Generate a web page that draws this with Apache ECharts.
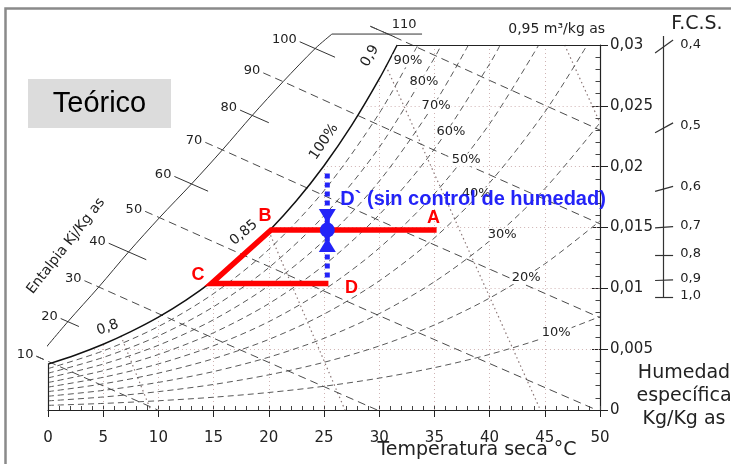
<!DOCTYPE html>
<html><head><meta charset="utf-8">
<script src="https://cdn.jsdelivr.net/npm/echarts@6/dist/echarts.min.js"></script>
<style>html,body{margin:0;padding:0;background:#fff}#c{width:731px;height:464px}</style>
</head><body><div id="c"></div>
<script>
// ================= data =================
const tempGrid = [0, 5, 10, 15, 20, 25, 30, 35, 40, 45, 50];
// saturation curve (100 %)
const satT = [0, 2.5, 5, 7.5, 10, 12.5, 15, 17.5, 20, 22.5, 25, 27.5, 30, 31.63];
const satW = [0.00377, 0.00452, 0.00540, 0.00644, 0.00763, 0.00903, 0.01065, 0.01253, 0.01470, 0.01720, 0.02008, 0.02339, 0.02721, 0.03];
// relative humidity curves, humidity at tempGrid
const rhLevels = [10, 20, 30, 40, 50, 60, 70, 80, 90];
const rh10 = [0.00038, 0.00054, 0.00076, 0.00105, 0.00144, 0.00195, 0.00262, 0.00348, 0.00457, 0.00595, 0.00768];
const rh20 = [0.00075, 0.00107, 0.00151, 0.00210, 0.00289, 0.00392, 0.00526, 0.00699, 0.00920, 0.01201, 0.01554];
const rh30 = [0.00113, 0.00161, 0.00227, 0.00316, 0.00434, 0.00589, 0.00792, 0.01054, 0.01390, 0.01819, 0.02361];
const rh40 = [0.00151, 0.00215, 0.00303, 0.00422, 0.00580, 0.00788, 0.01061, 0.01414, 0.01868, 0.02449];
const rh50 = [0.00188, 0.00269, 0.00379, 0.00528, 0.00726, 0.00988, 0.01331, 0.01777, 0.02352];
const rh60 = [0.00226, 0.00323, 0.00456, 0.00635, 0.00874, 0.01190, 0.01605, 0.02145, 0.02844];
const rh70 = [0.00264, 0.00377, 0.00532, 0.00742, 0.01022, 0.01393, 0.01880, 0.02517];
const rh80 = [0.00302, 0.00432, 0.00609, 0.00849, 0.01170, 0.01597, 0.02158, 0.02893];
const rh90 = [0.00340, 0.00486, 0.00686, 0.00957, 0.01320, 0.01802, 0.02438];
const rhTopT = [null, null, null, 48.84, 44.45, 40.96, 38.08, 35.62, 33.5]; // where curve meets 0,03
const rhLabelT = [46.03, 43.31, 41.13, 38.78, 37.87, 36.5, 35.15, 34.06, 32.6];
const rhLabelW = [0.00636, 0.01088, 0.01441, 0.01777, 0.02056, 0.02286, 0.0250, 0.02696, 0.02869];
// enthalpy scale (kJ/kg)
const hValues = [10, 20, 30, 40, 50, 60, 70, 80, 90, 100, 110];
const hScaleT = [-0.9, 1.8, 4.6, 7.3, 10.1, 13.0, 15.8, 18.5, 21.3, 24.2, 30.8];
const hScaleW = [0.00436, 0.00726, 0.01011, 0.01299, 0.01581, 0.01858, 0.02138, 0.02421, 0.02699, 0.02971, 0.0309];
const hScaleCorner = [25.72, 0.0309];
const hScaleEndT = 33.88;
const hDashed = [10, 30, 50, 70, 90, 110];
const hMidT = [5, 15, 29.4, 32, 36, 40];
const hMidW = [0.00198, 0.00590, 0.00799, 0.01477, 0.02094, 0.02709];
const hEndT = [9.94, 29.82, 49.7, 50, 50, 50];
const hEndW = [0, 0, 0, 0.00759, 0.01530, 0.02301];
// specific volume lines (m3/kg)
const volLabels = ['0,8', '0,85', '0,9'];
const volStartT = [6.6, 20.0, 30.6, 46.8];
const volStartW = [0.0061, 0.0147, 0.0283, 0.03];
const volEndT = [9.3, 26.9, 44.6, 50];
const volEndW = [0, 0, 0, 0.0236];
const volLabelT = [5.41, 17.74, 29.16];
const volLabelW = [0.00677, 0.01457, 0.0291];
const vol95Label = '0,95 m³/kg as';
const satLabel = ['100%', 25.0, 0.02204];
// dotted grid
const gridVT = [5, 10, 15, 20, 25, 30, 35, 40, 45];
const gridVTop = [0.0054, 0.00763, 0.01065, 0.0147, 0.02008, 0.02721, 0.03, 0.03, 0.03];
const gridHW = [0.005, 0.01, 0.015, 0.02, 0.025];
const gridHStart = [3.8, 14.0, 20.3, 24.9, 28.5];
// process A-B-C-D and D'
const processNames = ['A', 'B', 'C', 'D'];
const processT = [35.2, 20.2, 14.8, 25.4];
const processW = [0.0148, 0.0148, 0.0104, 0.0104];
const dPrimeT = 25.3, dPrimeW = 0.0148;
const dPathW = [0.0109, 0.0195];
const dPrimeText = 'D` (sin control de humedad)';
// F.C.S. scale
const fcsLabels = ['0,4', '0,5', '0,6', '0,7', '0,8', '0,9', '1,0'];
const fcsW = [0.02988, 0.02319, 0.01818, 0.01502, 0.01268, 0.01067, 0.00923];
const fcsTopW = 0.03074;
const fcsT = 55.73;

// ================= styles =================
const FONT = 'DejaVu Sans';
const INK = '#222';
const H_SLOPE = -0.000398;            // direction of constant-enthalpy ticks
const hTickLeft = [0.15, 0.65, 1.3, 1.8, 1.3, 1.55, 1.55, 1.1, 1.8, 1.4, 1.6];
const hTickRight = [0.5, 1.0, 1.5, 1.6, 1.5, 1.5, 1.5, 1.5, 1.6, 1.8, 0.6];
const fcsTilt = [0.00107, 0.00082, 0.00041, 0.0001, 0, 0.00005, 0];
const BLUE = '#2323f8', RED = '#ff0000';

const rhAll = [rh10, rh20, rh30, rh40, rh50, rh60, rh70, rh80, rh90];
const series = [];

function labelSeries(points, texts, label, z) {
  return {
    type: 'scatter', silent: true, clip: false, z: z || 6, symbolSize: 1,
    itemStyle: { color: 'transparent', opacity: 1 },
    label: Object.assign({ show: true, position: 'inside', fontFamily: FONT, fontSize: 13, color: INK }, label),
    data: points.map((p, i) => ({ value: p, label: { formatter: texts[i] } }))
  };
}

// dotted grid
series.push({
  type: 'lines', coordinateSystem: 'cartesian2d', silent: true, z: 1, clip: false,
  lineStyle: { color: '#cfb3b3', width: 1, type: [1, 3], opacity: 1 },
  data: gridVT.map((t, i) => ({ coords: [[t, 0], [t, gridVTop[i]]] }))
    .concat(gridHW.map((w, i) => ({ coords: [[gridHStart[i], w], [50, w]] })))
});

// RH curves
rhAll.forEach((arr, k) => {
  const pts = arr.map((w, i) => [tempGrid[i], w]);
  if (rhTopT[k] != null) pts.push([rhTopT[k], 0.03]);
  series.push({
    type: 'line', data: pts, smooth: 0.3, symbol: 'none', silent: true, z: 2,
    lineStyle: { color: '#5a5a5a', width: 1, type: [6, 4] }
  });
});

// volume lines
series.push({
  type: 'lines', coordinateSystem: 'cartesian2d', silent: true, z: 2, clip: false,
  lineStyle: { color: '#8c7777', width: 1.2, type: [1.5, 3], opacity: 1 },
  data: volStartT.map((t, i) => ({ coords: [[t, volStartW[i]], [volEndT[i], volEndW[i]]] }))
});

// saturation curve
series.push({
  type: 'line', data: satT.map((t, i) => [t, satW[i]]), smooth: 0.3,
  symbol: 'none', silent: true, z: 4, clip: false, lineStyle: { color: '#111', width: 1.5 }
});
// borders of the chart body
series.push({
  type: 'lines', coordinateSystem: 'cartesian2d', silent: true, z: 4, clip: false,
  lineStyle: { color: '#222', width: 1.2, opacity: 1 },
  data: [{ coords: [[0, 0], [0, satW[0]]] }, { coords: [[satT[satT.length - 1], 0.03], [50, 0.03]] }]
});

// enthalpy scale line
series.push({
  type: 'line', data: hScaleT.slice(0, 10).map((t, i) => [t, hScaleW[i]]).concat([hScaleCorner]),
  smooth: 0.3, symbol: 'none', silent: true, z: 3, clip: false, lineStyle: { color: '#333', width: 1 }
});
series.push({
  type: 'line', data: [hScaleCorner, [hScaleEndT, hScaleCorner[1]]],
  symbol: 'none', silent: true, z: 3, clip: false, lineStyle: { color: '#333', width: 1 }
});
// enthalpy ticks
const tickLeftPts = hScaleT.map((t, i) => [t - hTickLeft[i], hScaleW[i] - hTickLeft[i] * H_SLOPE]);
series.push({
  type: 'lines', coordinateSystem: 'cartesian2d', silent: true, z: 3, clip: false,
  lineStyle: { color: '#333', width: 1, opacity: 1 },
  data: hScaleT.map((t, i) => ({
    coords: [tickLeftPts[i], [t + hTickRight[i], hScaleW[i] + hTickRight[i] * H_SLOPE]]
  })).filter((d, i) => hDashed.indexOf(hValues[i]) < 0 || hValues[i] === 110 || hValues[i] === 10)
});
// dashed enthalpy lines
series.push({
  type: 'lines', coordinateSystem: 'cartesian2d', polyline: true, silent: true, z: 3, clip: false,
  lineStyle: { color: '#4a4a4a', width: 1, type: [8, 5], opacity: 1 },
  data: hDashed.map((h, k) => {
    const i = hValues.indexOf(h);
    return { coords: [tickLeftPts[i], [hScaleT[i], hScaleW[i]], [hMidT[k], hMidW[k]], [hEndT[k], hEndW[k]]] };
  })
});
// enthalpy labels
series.push(labelSeries(
  hValues.map((h, i) => i === 10 ? [hScaleT[i], hScaleW[i]] : tickLeftPts[i]),
  hValues.map(String),
  { fontSize: 13 }, 6));
series[series.length - 1].data.forEach((d, i) => {
  d.label.align = i === 10 ? 'center' : 'right';
  d.label.offset = i === 10 ? [16, -9] : [-3, -2];
});

// F.C.S. scale
series.push({
  type: 'lines', coordinateSystem: 'cartesian2d', silent: true, z: 3, clip: false,
  lineStyle: { color: '#333', width: 1.2, opacity: 1 },
  data: [{ coords: [[fcsT, fcsTopW], [fcsT, fcsW[fcsW.length - 1]]] }].concat(
    fcsW.map((w, i) => ({ coords: [[fcsT - 0.74, w - fcsTilt[i] / 2], [fcsT + 0.89, w + fcsTilt[i] / 2]] })))
});
series.push(labelSeries(fcsW.map(w => [fcsT + 1.54, w]), fcsLabels, { align: 'left', offset: [0, -2] }, 6));

// RH labels
series.push(labelSeries(rhLabelT.map((t, i) => [t, rhLabelW[i]]), rhLevels.map(v => v + '%'),
  { backgroundColor: '#fff', padding: [0, 1] }, 5));
// rotated labels
series.push(labelSeries([[satLabel[1], satLabel[2]]], [satLabel[0]], { fontSize: 14, rotate: 56 }, 6));
series.push(labelSeries(volLabelT.map((t, i) => [t, volLabelW[i]]), volLabels, { fontSize: 14 }, 6));
[20, 40, 60].forEach((r, i) => { series[series.length - 1].data[i].label.rotate = r; });
series.push(labelSeries([[volStartT[3], volStartW[3]]], [vol95Label], { fontSize: 14, offset: [-8, -16] }, 6));

// process lines
series.push({
  type: 'line', data: processT.map((t, i) => [t, processW[i]]), symbol: 'none', silent: true, z: 10,
  lineStyle: { color: RED, width: 5.5, cap: 'butt', join: 'miter' }
});
const procOffsets = [[-3, -12], [-6, -14], [-13.5, -8], [23, 5]];
series.push(labelSeries(processT.map((t, i) => [t, processW[i]]), processNames,
  { fontFamily: 'Liberation Sans', fontWeight: 'bold', fontSize: 18, color: RED }, 12));
series[series.length - 1].data.forEach((d, i) => { d.label.offset = procOffsets[i]; });

// D' marker
series.push({
  type: 'line', data: [[dPrimeT, dPathW[0]], [dPrimeT, dPathW[1]]], symbol: 'none', silent: true, z: 11,
  lineStyle: { color: BLUE, width: 5, type: [5, 4], cap: 'butt' }
});
series.push({
  type: 'scatter', silent: true, z: 12, clip: false,
  data: [
    { value: [dPrimeT, dPrimeW], symbol: 'circle', symbolSize: 15 },
    { value: [dPrimeT, dPrimeW], symbol: 'triangle', symbolSize: [17, 14], symbolRotate: 180, symbolOffset: [0, -14] },
    { value: [dPrimeT, dPrimeW], symbol: 'triangle', symbolSize: [17, 14], symbolOffset: [0, 15] }
  ],
  itemStyle: { color: BLUE, opacity: 1 }
});
series.push(labelSeries([[dPrimeT, dPrimeW]], [dPrimeText],
  { fontFamily: 'Liberation Sans', fontWeight: 'bold', fontSize: 20, color: BLUE, align: 'left', offset: [13, -30] }, 13));

const chart = echarts.init(document.getElementById('c'));
chart.setOption({
  animation: false,
  backgroundColor: '#fff',
  grid: { left: 48, right: 131, top: 45, bottom: 54, containLabel: false, outerBoundsMode: 'none' },
  xAxis: [
    { type: 'value', min: 0, max: 50, interval: 5, position: 'bottom',
      axisLine: { onZero: false, lineStyle: { color: '#222', width: 1.2 } },
      axisTick: { length: 7, lineStyle: { color: '#222' } },
      axisLabel: { margin: 21, fontSize: 15, fontFamily: FONT, color: INK },
      splitLine: { show: false } },
    { type: 'value', min: 0, max: 50, interval: 1, position: 'bottom',
      axisLine: { show: false, onZero: false }, axisTick: { inside: true, length: 4, lineStyle: { color: '#444' } },
      axisLabel: { show: false }, splitLine: { show: false } }
  ],
  yAxis: [
    { type: 'value', min: 0, max: 0.03, interval: 0.005, position: 'right',
      axisLine: { show: true, onZero: false, lineStyle: { color: '#222', width: 1.2 } },
      axisTick: { show: true, length: 8, lineStyle: { color: '#222' } },
      axisLabel: { margin: 10, fontSize: 15, fontFamily: FONT, color: INK,
        formatter: v => v === 0 ? '0' : String(Number(v.toFixed(3))).replace('.', ',') },
      splitLine: { show: false } },
    { type: 'value', min: 0, max: 0.03, interval: 0.001, position: 'right',
      axisLine: { show: false, onZero: false }, axisTick: { show: true, inside: true, length: 4.5, lineStyle: { color: '#444' } },
      axisLabel: { show: false }, splitLine: { show: false } },
    { type: 'value', min: 0, max: 0.03, interval: 0.005, position: 'right',
      axisLine: { show: false, onZero: false }, axisTick: { show: true, inside: true, length: 8, lineStyle: { color: '#222' } },
      axisLabel: { show: false }, splitLine: { show: false } }
  ],
  graphic: [
    { type: 'rect', shape: { x: 5.5, y: 8.5, width: 760, height: 500 }, style: { fill: 'none', stroke: '#8a8a8a', lineWidth: 2.5 }, z: 100, silent: true },
    { type: 'rect', shape: { x: 28, y: 79, width: 143, height: 49 }, style: { fill: '#dcdcdc' }, z: 50, silent: true },
    { type: 'text', x: 99.5, y: 104, style: { text: 'Teórico', fontFamily: 'Liberation Sans', fontSize: 29, fill: '#000', align: 'center', verticalAlign: 'middle' }, z: 51, silent: true },
    { type: 'text', x: 66, y: 246, rotation: 52 * Math.PI / 180, style: { text: 'Entalpia Kj/Kg as', fontFamily: FONT, fontSize: 14, fill: INK, align: 'center', verticalAlign: 'middle' }, z: 51, silent: true },
    { type: 'text', x: 697, y: 24, style: { text: 'F.C.S.', fontFamily: FONT, fontSize: 19, fill: INK, align: 'center', verticalAlign: 'middle' }, z: 51, silent: true },
    { type: 'text', x: 684, y: 373, style: { text: 'Humedad', fontFamily: FONT, fontSize: 19, fill: INK, align: 'center', verticalAlign: 'middle' }, z: 51, silent: true },
    { type: 'text', x: 684, y: 396, style: { text: 'específica', fontFamily: FONT, fontSize: 19, fill: INK, align: 'center', verticalAlign: 'middle' }, z: 51, silent: true },
    { type: 'text', x: 684, y: 419, style: { text: 'Kg/Kg as', fontFamily: FONT, fontSize: 19, fill: INK, align: 'center', verticalAlign: 'middle' }, z: 51, silent: true },
    { type: 'text', x: 477, y: 450, style: { text: 'Temperatura seca °C', fontFamily: FONT, fontSize: 19, fill: INK, align: 'center', verticalAlign: 'middle' }, z: 51, silent: true }
  ],
  series: series
});
</script>
</body></html>
